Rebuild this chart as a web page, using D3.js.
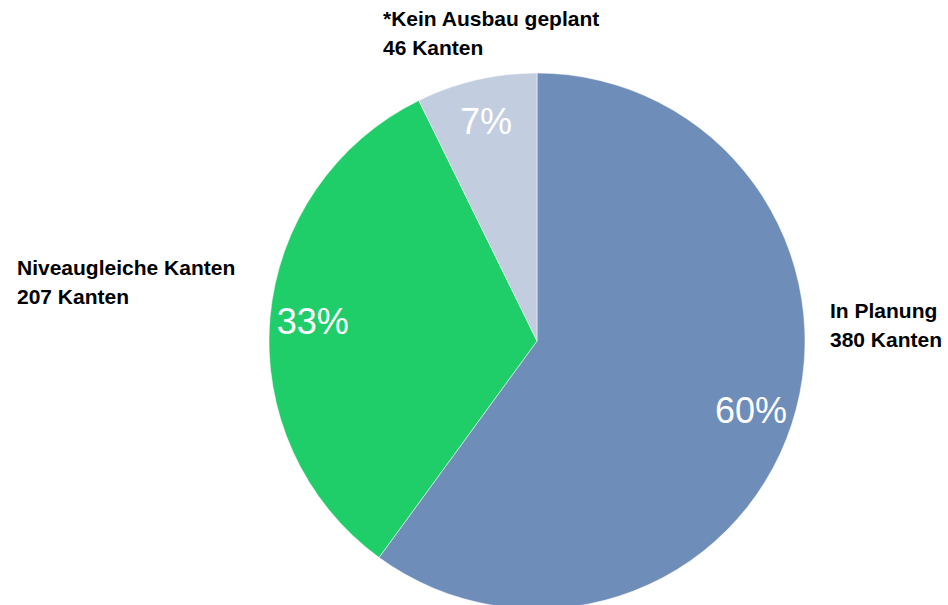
<!DOCTYPE html>
<html>
<head>
<meta charset="utf-8">
<script src="https://cdn.jsdelivr.net/npm/d3@7"></script>
<style>
  body { margin: 0; background: #fff; }
  svg { display: block; font-family: "Liberation Sans", Arial, sans-serif; }
</style>
</head>
<body>
<div id="chart"></div>
<script>
// data
const categories = ['In Planung', 'Niveaugleiche Kanten', '*Kein Ausbau geplant'];
const counts = [380, 207, 46];
const colors = ['#6e8db9', '#1fce68', '#c2cde0'];

// outer label placement (x, y of first line baseline)
const labelPos = [[830, 318], [17, 275], [383, 26]];

const width = 948, height = 605;
const cx = 537, cy = 341, radius = 268;

const svg = d3.select('#chart').append('svg')
  .attr('width', width)
  .attr('height', height);

const g = svg.append('g').attr('transform', `translate(${cx},${cy})`);

const total = d3.sum(counts);
const items = categories.map((c, i) => ({ name: c, value: counts[i], color: colors[i], idx: i }));

const pie = d3.pie().value(d => d.value).sort(null);
const arcs = pie(items);

const arc = d3.arc().innerRadius(0).outerRadius(radius);
const labelArc = d3.arc().innerRadius(225).outerRadius(225);

g.selectAll('path.slice')
  .data(arcs)
  .join('path')
  .attr('class', 'slice')
  .attr('d', arc)
  .attr('fill', d => d.data.color)
  .attr('stroke', '#fff')
  .attr('stroke-width', 0.5);

// percentages inside
g.selectAll('text.pct')
  .data(arcs)
  .join('text')
  .attr('class', 'pct')
  .attr('transform', d => `translate(${labelArc.centroid(d)})`)
  .attr('text-anchor', 'middle')
  .attr('dy', '0.35em')
  .attr('fill', '#fff')
  .attr('font-size', '36px')
  .text(d => Math.round(d.data.value / total * 100) + '%');

// outer category labels
const lab = svg.selectAll('text.cat')
  .data(items)
  .join('text')
  .attr('class', 'cat')
  .attr('x', d => labelPos[d.idx][0])
  .attr('y', d => labelPos[d.idx][1])
  .attr('font-size', '21px')
  .attr('font-weight', 'bold')
  .attr('fill', '#000');

lab.append('tspan').text(d => d.name);
lab.append('tspan')
  .attr('x', d => labelPos[d.idx][0])
  .attr('dy', 29)
  .text(d => d.value + ' Kanten');
</script>
</body>
</html>
